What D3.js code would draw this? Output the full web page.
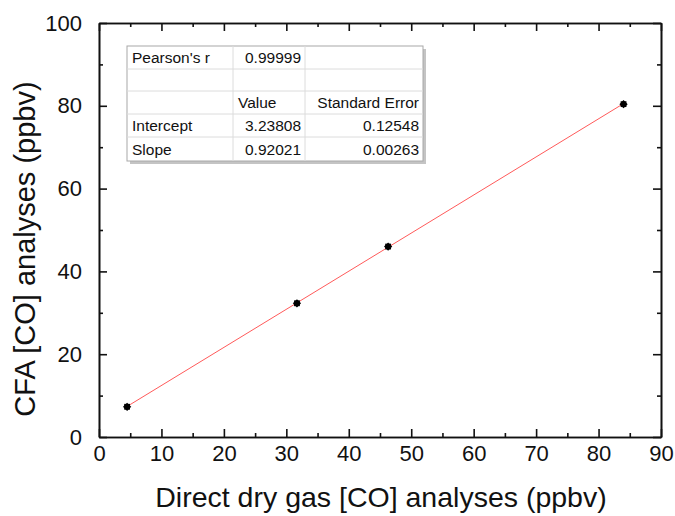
<!DOCTYPE html>
<html lang="en">
<head>
<meta charset="utf-8">
<title>CFA vs direct dry gas CO</title>
<style>
  body {margin: 0; background: #fff;}
  svg text {font-family: "Liberation Sans", Arial, sans-serif; fill: #111;}
  .axis path, .axis line {stroke: #111;}
</style>
</head>
<body>
<svg id="chart" width="675" height="516"></svg>
<script src="https://d3js.org/d3.v7.min.js"></script>
<script>
// measured points (ppbv)
const directCO = [4.5, 31.7, 46.3, 84.0];
const cfaCO    = [7.3, 32.3, 46.0, 80.4];

// linear fit results shown in the table
const fitIntercept = 3.23808;
const fitSlope     = 0.92021;
const tableRows = [
  ["Pearson's r", "0.99999", ""],
  ["", "", ""],
  ["", "Value", "Standard Error"],
  ["Intercept", "3.23808", "0.12548"],
  ["Slope", "0.92021", "0.00263"]
];

const xTicks = [0, 10, 20, 30, 40, 50, 60, 70, 80, 90];
const yTicks = [0, 20, 40, 60, 80, 100];
const xMinor = [5, 15, 25, 35, 45, 55, 65, 75, 85];
const yMinor = [10, 30, 50, 70, 90];

const svg = d3.select("#chart");
const x = d3.scaleLinear().domain([0, 90]).range([99, 661]);
const y = d3.scaleLinear().domain([0, 100]).range([437, 23]);

svg.append("rect").attr("width", 675).attr("height", 516).attr("fill", "#fff");

// axes, ticks pointing inward on all four sides
const gB = svg.append("g").attr("class", "axis").attr("transform", "translate(0,437)");
gB.call(d3.axisBottom(x).tickValues(xTicks).tickSizeInner(-8).tickSizeOuter(0).tickPadding(8));
gB.append("g").call(d3.axisBottom(x).tickValues(xMinor).tickSizeInner(-4).tickSizeOuter(0).tickFormat(""));

const gT = svg.append("g").attr("class", "axis").attr("transform", "translate(0,23)");
gT.call(d3.axisTop(x).tickValues(xTicks).tickSizeInner(-8).tickSizeOuter(0).tickFormat(""));
gT.append("g").call(d3.axisTop(x).tickValues(xMinor).tickSizeInner(-4).tickSizeOuter(0).tickFormat(""));

const gL = svg.append("g").attr("class", "axis").attr("transform", "translate(99,0)");
gL.call(d3.axisLeft(y).tickValues(yTicks).tickSizeInner(-8).tickSizeOuter(0).tickPadding(17));
gL.append("g").call(d3.axisLeft(y).tickValues(yMinor).tickSizeInner(-4).tickSizeOuter(0).tickFormat(""));

const gR = svg.append("g").attr("class", "axis").attr("transform", "translate(661,0)");
gR.call(d3.axisRight(y).tickValues(yTicks).tickSizeInner(-8).tickSizeOuter(0).tickFormat(""));
gR.append("g").call(d3.axisRight(y).tickValues(yMinor).tickSizeInner(-4).tickSizeOuter(0).tickFormat(""));

svg.selectAll(".axis path").attr("stroke-width", 1.6);
svg.selectAll(".axis line").attr("stroke-width", 1.6);
svg.selectAll(".axis text").attr("font-size", 22).attr("fill", "#111");

// axis titles
svg.append("text")
  .attr("x", 381).attr("y", 507)
  .attr("text-anchor", "middle")
  .attr("font-size", 28.5)
  .text("Direct dry gas [CO] analyses (ppbv)");

svg.append("text")
  .attr("transform", "translate(35,249) rotate(-90)")
  .attr("text-anchor", "middle")
  .attr("font-size", 29)
  .text("CFA [CO] analyses (ppbv)");

// fitted line over the measured range
const xMin = d3.min(directCO), xMax = d3.max(directCO);
svg.append("line")
  .attr("x1", x(xMin)).attr("y1", y(fitIntercept + fitSlope * xMin))
  .attr("x2", x(xMax)).attr("y2", y(fitIntercept + fitSlope * xMax))
  .attr("stroke", "#ff5a5a").attr("stroke-width", 1);

// markers: small 8-point star blobs
const sq = d3.symbol().type(d3.symbolSquare).size(34);
const pts = svg.append("g").selectAll("g")
  .data(directCO.map((d, i) => [d, cfaCO[i]]))
  .join("g")
    .attr("transform", d => `translate(${x(d[0])},${y(d[1])})`);
pts.append("path").attr("d", sq).attr("fill", "#000");
pts.append("path").attr("d", sq).attr("transform", "rotate(45)").attr("fill", "#000");

// statistics table
const colX = [127, 233, 305, 423];
const rowY = [46, 69, 91, 114, 137, 161];
const tbl = svg.append("g");
tbl.append("rect")
  .attr("x", colX[0] + 3).attr("y", rowY[0] + 3)
  .attr("width", colX[3] - colX[0]).attr("height", rowY[5] - rowY[0])
  .attr("fill", "#c4c4c4");
tbl.append("rect")
  .attr("x", colX[0]).attr("y", rowY[0])
  .attr("width", colX[3] - colX[0]).attr("height", rowY[5] - rowY[0])
  .attr("fill", "#fff").attr("stroke", "#a8a8a8");
rowY.slice(1, -1).forEach(ry => {
  tbl.append("line").attr("x1", colX[0]).attr("x2", colX[3])
    .attr("y1", ry).attr("y2", ry).attr("stroke", "#dcdcdc");
});
colX.slice(1, -1).forEach(cx => {
  tbl.append("line").attr("x1", cx).attr("x2", cx)
    .attr("y1", rowY[0]).attr("y2", rowY[5]).attr("stroke", "#dcdcdc");
});
tableRows.forEach((row, r) => {
  const by = (rowY[r] + rowY[r + 1]) / 2 + 5.5;
  row.forEach((cell, c) => {
    if (!cell) return;
    const leftAligned = c === 0 || (r === 2 && c === 1);
    tbl.append("text")
      .attr("x", leftAligned ? colX[c] + 5 : colX[c + 1] - 4)
      .attr("y", by)
      .attr("text-anchor", leftAligned ? "start" : "end")
      .attr("font-size", 15.5)
      .attr("fill", "#222")
      .text(cell);
  });
});
</script>
</body>
</html>
